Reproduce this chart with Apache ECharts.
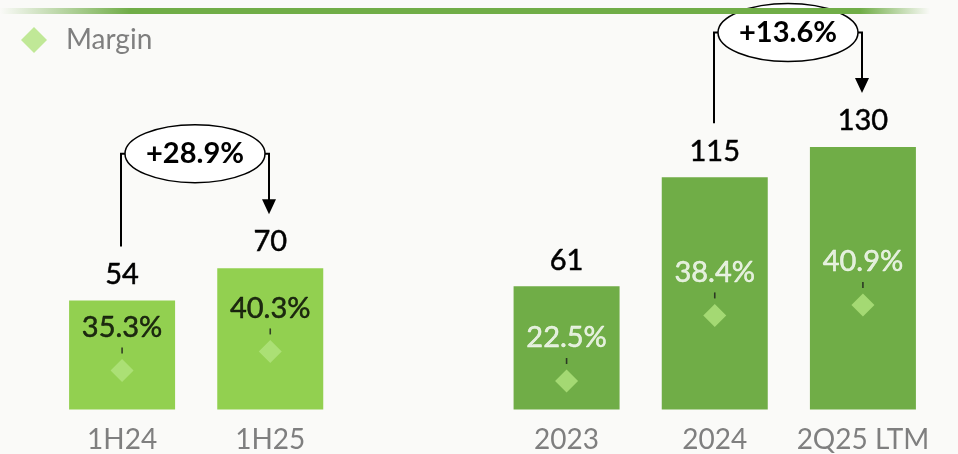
<!DOCTYPE html>
<html>
<head>
<meta charset="utf-8">
<script src="https://cdn.jsdelivr.net/npm/echarts@6/dist/echarts.min.js"></script>
<style>
  html, body { margin: 0; padding: 0; background: #fafaf8; }
  #chart { width: 958px; height: 454px; }
</style>
</head>
<body>
<div id="chart"></div>
<script>
// periods; the empty slot keeps the gap between the half-year and the full-year groups
const categories = ['1H24', '1H25', '', '2023', '2024', '2Q25 LTM'];
const values = [54, 70, null, 61, 115, 130];
const margins = [35.3, 40.3, null, 22.5, 38.4, 40.9];
const halfYearIdx = [0, 1];
const fullYearIdx = [3, 4, 5];
// growth bubbles: [from index, to index, label]
const growth = [
  [0, 1, '+28.9%'],
  [4, 5, '+13.6%']
];

const FONT = 'Lato, "Open Sans", sans-serif';
const lightGreen = '#92d050';
const darkGreen = '#70ad47';
const diamondColor = '#b2e47e';

function pick(arr, idx) {
  return arr.map((v, i) => (idx.includes(i) && v != null ? v : '-'));
}

const chart = echarts.init(document.getElementById('chart'), null, { renderer: 'canvas' });

function marginSeries(idx, yAxisIndex, labelColor) {
  return [
    {
      name: 'Margin',
      type: 'scatter',
      yAxisIndex,
      symbol: 'diamond',
      symbolSize: 23,
      itemStyle: { color: diamondColor },
      label: {
        show: true,
        position: 'inside',
        offset: [0, -43],
        formatter: (p) => p.value + '%',
        color: labelColor,
        textBorderColor: labelColor,
        textBorderWidth: 0.5,
        fontFamily: FONT,
        fontSize: 29
      },
      silent: true,
      z: 5,
      data: pick(margins, idx)
    },
    {
      type: 'scatter',
      yAxisIndex,
      symbol: 'rect',
      symbolSize: [1.6, 6],
      symbolOffset: [0, -20],
      itemStyle: { color: '#1a1a1a' },
      silent: true,
      z: 5,
      data: pick(margins, idx)
    }
  ];
}

const option = {
  backgroundColor: '#fafaf8',
  animation: false,
  legend: {
    left: 21,
    top: 26,
    padding: 0,
    icon: 'diamond',
    itemWidth: 26,
    itemHeight: 26,
    data: ['Margin'],
    textStyle: {
      color: '#7f7f7f',
      fontFamily: FONT,
      fontSize: 28,
      padding: [0, 0, 0, 14]
    }
  },
  grid: { left: 48, right: 21, top: 46, bottom: 44.5 },
  xAxis: {
    type: 'category',
    data: categories,
    axisLine: { show: false },
    axisTick: { show: false },
    axisLabel: {
      interval: 0,
      color: '#7f7f7f',
      fontFamily: FONT,
      fontSize: 28,
      margin: 16
    }
  },
  yAxis: [
    { type: 'value', min: 0, max: 180, show: false },
    { type: 'value', min: 25, max: 120.8, show: false },
    { type: 'value', min: 15.6, max: 103.7, show: false }
  ],
  series: [
    {
      type: 'bar',
      barWidth: 106,
      silent: true,
      label: {
        show: true,
        position: 'top',
        distance: 11,
        lineHeight: 30,
        color: '#000',
        textBorderColor: '#000',
        textBorderWidth: 0.5,
        fontFamily: FONT,
        fontSize: 29
      },
      data: values.map((v, i) => ({
        value: v == null ? '-' : v,
        itemStyle: { color: halfYearIdx.includes(i) ? lightGreen : darkGreen }
      }))
    },
    ...marginSeries(halfYearIdx, 1, '#000'),
    ...marginSeries(fullYearIdx, 2, '#fff')
  ]
};

chart.setOption(option);

function buildAnnotations() {
  const els = [];
  const lineStyle = { stroke: '#000', lineWidth: 2, fill: null };

  growth.forEach(([from, to, text]) => {
    const a = chart.convertToPixel({ gridIndex: 0 }, [from, values[from]]);
    const b = chart.convertToPixel({ gridIndex: 0 }, [to, values[to]]);
    const xA = Math.round(a[0]) - 1;
    const xB = Math.round(b[0]) - 1;
    const cx = (xA + xB) / 2;
    const cy = b[1] - 114.5;
    const rx = 70;
    const ry = 29;

    els.push({
      type: 'polyline',
      z: 10,
      shape: { points: [[xA, a[1] - 54], [xA, cy], [cx - rx, cy]] },
      style: lineStyle
    });
    els.push({
      type: 'polyline',
      z: 10,
      shape: { points: [[cx + rx, cy], [xB, cy], [xB, b[1] - 68]] },
      style: lineStyle
    });
    els.push({
      type: 'polygon',
      z: 10,
      shape: { points: [[xB - 7, b[1] - 69], [xB + 7, b[1] - 69], [xB, b[1] - 54]] },
      style: { fill: '#000' }
    });
    els.push({
      type: 'ellipse',
      z: 11,
      shape: { cx, cy, rx, ry },
      style: { fill: '#fff', stroke: '#000', lineWidth: 1.5 }
    });
    els.push({
      type: 'text',
      z: 12,
      x: cx,
      y: cy,
      style: {
        text,
        fill: '#000',
        font: 'bold 29px ' + FONT,
        align: 'center',
        verticalAlign: 'middle'
      }
    });
  });

  // green header rule, fading out at both ends
  els.push({
    type: 'rect',
    z: 20,
    shape: { x: 0, y: 8, width: 930, height: 6 },
    style: {
      fill: new echarts.graphic.LinearGradient(0, 0, 1, 0, [
        { offset: 0, color: 'rgba(112,173,71,0)' },
        { offset: 0.14, color: darkGreen },
        { offset: 0.925, color: darkGreen },
        { offset: 1, color: 'rgba(112,173,71,0)' }
      ])
    }
  });

  chart.setOption({ graphic: els });
}

buildAnnotations();
</script>
</body>
</html>
